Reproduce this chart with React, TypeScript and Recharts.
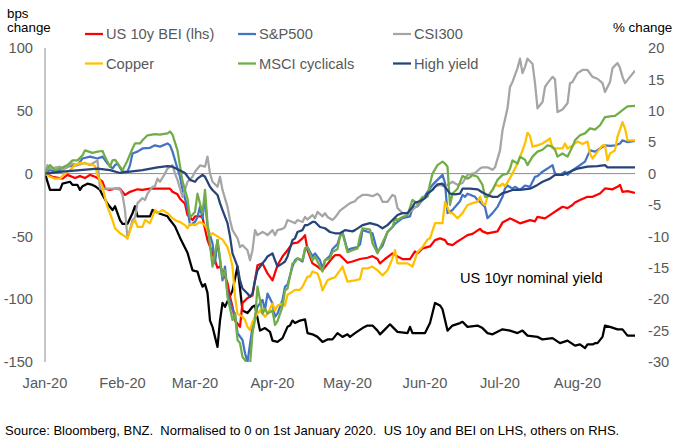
import React from 'react';
import { LineChart, Line, XAxis, YAxis, ReferenceLine } from 'recharts';

// x values: calendar days since 1 Jan 2020
const monthTicks = [0, 31, 60, 91, 121, 152, 182, 213];
const monthLabels = ['Jan-20', 'Feb-20', 'Mar-20', 'Apr-20', 'May-20', 'Jun-20', 'Jul-20', 'Aug-20'];
const lhsTicks = [-150, -100, -50, 0, 50, 100];
const rhsTicks = [-30, -25, -20, -15, -10, -5, 0, 5, 10, 15, 20];

// US 10yr nominal yield, bps change (lhs)
const nominalYield: [number, number][] = [
  [0,0],[2,-13],[6,-13],[7,-8],[10,-6.5],[11,-9],[13,-9],[14,-13],[15,-10],[17,-8],[19,-9],[20,-10],[22,-13],[23,-17],[25,-24],[27,-29],[28,-26],[29,-31.5],[30,-37],[31,-40],[33,-40],[35,-31.5],[36,-26],[37,-34],[42,-34],[43,-29],[46,-32],[49,-34],[50,-37],[52,-42],[54,-51],[55,-55],[57,-63],[59,-77],[61,-78],[62,-85],[63,-90],[64,-88],[65,-95],[66,-117],[67,-122],[68,-130],[69,-138],[70,-117],[71,-103],[72,-106],[75,-93],[77,-74],[79,-109],[81,-111],[83,-106],[84,-105],[86,-125],[88,-123],[90,-126],[91,-133],[93,-134],[95,-131],[97,-122],[98,-121],[99,-117],[100,-119],[102,-117],[104,-116],[105,-127],[107,-128],[109,-130],[111,-134],[113,-132],[115,-132],[117,-127],[119,-130],[121,-128],[122,-130],[124,-127],[127,-123],[129,-121],[131,-121],[133,-125],[134,-128],[136,-124],[138,-120],[139,-122],[141,-126],[145,-127],[146,-122],[147,-127],[152,-127],[154,-119],[156,-103],[158,-105],[159,-108],[161,-125],[163,-121],[166,-119],[167,-118],[169,-122],[173,-121],[175,-123],[177,-127],[179,-128],[181,-126],[183,-124],[186,-125],[189,-127],[191,-125],[193,-129],[197,-130],[199,-132],[203,-131],[206,-135],[209,-133],[212,-137],[214,-136],[216,-139],[217,-136],[219,-136],[220,-135],[221,-135],[223,-130],[224,-121],[226,-122],[229,-124],[231,-124],[233,-129],[236,-129],
];

// US 10y BEI, bps change (lhs)
const bei: [number, number][] = [
  [0,0],[3,-2.5],[7,-4],[9,-1],[12,-3.5],[14,-2],[16,-3.5],[18,-1],[20,-2.5],[21,-3.5],[23,-6.5],[24,-12],[26,-13],[28,-12],[30,-12],[32,-17],[34,-14.5],[37,-12.5],[39,-13],[42,-12],[50,-12],[51,-14.5],[53,-16.5],[54,-20],[56,-24],[57,-33],[59,-37],[60,-34],[62,-34],[63,-35],[65,-53],[67,-63.5],[69,-75],[70,-74],[71,-78],[73,-87],[74,-98],[75,-106],[76,-117],[78,-122],[79,-103],[81,-99],[83,-97],[84,-85],[85,-73],[87,-71.5],[89,-79.5],[91,-85],[93,-73],[95,-66],[97,-61],[99,-55.5],[101,-55],[103,-51.6],[104,-49],[105,-61],[107,-71.5],[109,-74],[111,-77],[113,-72],[115,-67],[116,-65],[118,-65],[121,-71],[123,-70],[126,-68],[129,-67],[131,-65.7],[133,-68],[134,-71.5],[136,-68],[139,-63.5],[141,-66],[143,-68],[146,-68],[148,-62],[149,-63.5],[151,-59.6],[154,-58],[156,-53],[158,-51.6],[160,-53],[161,-56],[163,-57],[165,-54],[167,-51.6],[169,-49],[171,-48],[174,-44],[175,-46],[177,-47.6],[181,-46],[183,-39],[186,-35.7],[187,-36.5],[190,-39.6],[194,-37],[196,-38],[197,-34.4],[200,-35.7],[203,-31.7],[205,-29],[207,-26.4],[209,-27.5],[211,-25],[212,-23],[214,-21],[217,-18.5],[219,-18.5],[222,-15.8],[224,-11.8],[227,-12.5],[229,-10.5],[230,-9],[231,-14.5],[233,-14],[236,-15.3],
];

// S&P500, % change (rhs)
const spx: [number, number][] = [
  [0,0],[2,0.6],[4,0.3],[7,0.7],[10,1.2],[13,1.35],[15,2.4],[18,2.7],[21,2.4],[23,2.7],[25,1.6],[27,0.8],[28,1.35],[29,1.6],[31,0.3],[33,0.3],[34,1.35],[35,3.2],[37,3.5],[39,4.0],[42,4.1],[44,4.5],[46,4.3],[49,4.8],[50,4.5],[51,3.5],[53,0.8],[54,-0.5],[55,-2.5],[57,-5.5],[58,-8.2],[60,-7.7],[61,-6.9],[62,-5.3],[63,-7.1],[64,-3.9],[65,-8.5],[67,-11.1],[68,-14.3],[69,-10.6],[71,-17],[72,-14.8],[73,-19],[75,-21.7],[76,-22.3],[77,-25.4],[79,-26.5],[80,-28.6],[81,-30],[83,-24.4],[84,-22.8],[85,-21.2],[87,-20.1],[88,-21.7],[89,-19.1],[91,-20.7],[92,-22.8],[93,-22.3],[95,-20.1],[96,-18],[97,-17.7],[99,-14.8],[100,-13.8],[101,-13.5],[103,-14],[104,-12.2],[105,-11.7],[107,-13.2],[108,-12.7],[110,-13.8],[111,-15.1],[112,-13.8],[114,-13.1],[115,-12],[117,-11.2],[118,-10],[119,-9.3],[121,-12.2],[122,-12],[125,-11.7],[126,-11.3],[127,-9],[131,-9.5],[133,-12.5],[135,-11.5],[137,-9.3],[139,-8.5],[140,-8.0],[143,-7.1],[146,-6.8],[147,-5.5],[149,-5.2],[151,-4.2],[153,-2.9],[155,-1.8],[157,-1.0],[159,-0.2],[160,-1.5],[161,-6.3],[163,-5.8],[164,-5.3],[166,-4.4],[167,-3.4],[168,-3.7],[169,-3.2],[172,-3.7],[173,-4.2],[174,-4.5],[176,-5.3],[177,-7.1],[179,-6.3],[181,-5.3],[183,-3.7],[184,-2.4],[185,-1.9],[187,-2.4],[188,-2.1],[190,-2.6],[192,-1.9],[194,-2.1],[196,-0.5],[197,-0.4],[199,0.3],[201,0.8],[203,1.35],[204,0],[206,-0.2],[208,0.3],[209,-0.2],[211,0.55],[212,0.8],[214,1.35],[216,1.9],[218,3.7],[220,3.5],[222,4.0],[224,4.5],[226,4.4],[228,4.5],[230,4.8],[231,5.3],[233,5.0],[236,5.2],
];

// CSI300, % change (rhs)
const csi300: [number, number][] = [
  [0,0],[1,1.35],[2,0.8],[6,1.1],[7,0.5],[9,1.1],[11,1.6],[13,1.35],[16,1.7],[18,1.35],[19,1.6],[21,2.1],[22,-2.4],[23,-2.4],[27,-2.4],[30,-2.5],[31,-3.4],[32,-5.8],[33,-10.3],[35,-7.4],[36,-7.0],[37,-4.7],[39,-3.9],[40,-4.2],[41,-3.2],[43,-2.1],[44,-2.0],[45,-0.8],[46,-1.3],[48,0],[49,0.8],[51,1.35],[52,0],[53,-1],[55,-3.7],[56,-2.6],[57,-1.3],[59,-0.5],[60,0.3],[62,1.3],[64,1.1],[65,2.7],[66,0],[67,-1.3],[69,-2.1],[70,-0.5],[71,-2.6],[73,-5.3],[74,-7.4],[75,-9],[77,-10.3],[78,-11.7],[79,-11.4],[81,-12.2],[82,-13.8],[83,-12.2],[84,-9],[85,-9.8],[87,-9.3],[88,-9.5],[89,-9.8],[91,-9],[92,-9.8],[93,-9],[95,-8.8],[96,-8.5],[97,-7.4],[99,-7.7],[100,-7.9],[101,-7.4],[103,-7.7],[104,-6.9],[105,-7.3],[107,-6.6],[108,-7.1],[109,-6.1],[111,-6.8],[112,-6.3],[113,-6.9],[115,-7.4],[116,-7.0],[118,-5.9],[120,-5.3],[122,-4.7],[124,-4.4],[125,-3.9],[127,-3.4],[129,-3.4],[131,-3.6],[133,-3.2],[134,-3.6],[135,-4.5],[137,-4.5],[139,-3.4],[140,-3.6],[141,-5.5],[143,-6.3],[145,-6.3],[147,-5.8],[149,-5.0],[151,-4.2],[153,-3.6],[154,-2.9],[156,-2.1],[158,-1.8],[160,-2.1],[161,-1.8],[163,-1.3],[165,-1.8],[167,-1.5],[169,-0.2],[171,0],[172,0.1],[174,0.8],[175,1.0],[177,1.0],[179,0.6],[180,1.0],[182,3.7],[183,6.9],[185,10.4],[186,13.8],[187,14.6],[189,16.8],[190,18.3],[191,16],[192,17],[193,18.3],[195,17.5],[196,14.4],[197,10.4],[199,11.4],[200,13.8],[201,14.4],[203,15.4],[204,15],[205,9.8],[207,10.2],[209,11.2],[210,14.4],[211,14.6],[213,16],[215,16.5],[217,16.5],[219,15.4],[221,15.1],[223,14.4],[224,13],[226,14.6],[227,16.8],[229,17.6],[230,16.8],[231,15.4],[232,14.4],[234,15.4],[236,16.4],
];

// Copper, % change (rhs)
const copper: [number, number][] = [
  [0,0],[2,-0.5],[4,-0.8],[6,-0.8],[8,0],[10,0.55],[12,1.35],[14,1.7],[16,1.6],[18,1.5],[20,1.2],[21,-0.2],[23,-2.1],[24,-3.9],[25,-5.3],[27,-7.4],[28,-8.7],[30,-9.5],[32,-10],[33,-10.3],[35,-7.9],[36,-7.4],[37,-8.5],[39,-8.5],[40,-7.4],[42,-7.9],[44,-5.8],[45,-6.3],[47,-5.8],[49,-6.3],[51,-7.1],[53,-7.6],[54,-7.7],[56,-8.2],[57,-8.7],[58,-8.0],[60,-8.2],[62,-7.7],[64,-8.2],[66,-9.8],[67,-9.5],[69,-10],[70,-10.3],[71,-10.5],[73,-11.7],[74,-13],[75,-14.8],[76,-19.6],[77,-22.3],[79,-22.8],[80,-23.3],[81,-24.4],[82,-24.9],[83,-23.6],[85,-22.3],[86,-21.8],[88,-22.8],[89,-22.3],[91,-20.7],[92,-21.8],[93,-21],[95,-20.7],[96,-21],[97,-19.3],[99,-18.8],[100,-18.5],[102,-18.5],[103,-18],[105,-16.4],[106,-16.4],[107,-15.6],[109,-15.9],[110,-17],[111,-18.6],[113,-17],[114,-16.8],[116,-16.5],[118,-15.4],[119,-14.8],[121,-17.2],[124,-17],[126,-16.8],[127,-15.1],[129,-15.1],[131,-14.8],[133,-15.4],[135,-16.2],[137,-15.4],[139,-13.5],[140,-12.2],[141,-14.3],[143,-14.3],[145,-14.3],[147,-14.8],[149,-12.5],[151,-11.7],[153,-10.5],[154,-10.3],[156,-7.9],[158,-7.9],[159,-7.9],[160,-4.5],[162,-6.3],[163,-6.3],[165,-7.1],[167,-6.3],[169,-5],[171,-4.7],[173,-4.5],[174,-3.7],[175,-4.7],[176,-5.0],[177,-3.7],[179,-2.6],[180,-1.8],[182,-2.0],[183,-1.6],[184,-2.0],[185,-1.4],[187,0],[189,1.6],[191,3.7],[192,4.8],[193,6.5],[194,6.0],[195,4.3],[197,4.5],[199,4.8],[201,5.3],[202,5.6],[203,4.0],[205,4.0],[207,4.0],[208,4.8],[209,4.0],[211,4.5],[213,5.1],[215,4.7],[217,5.1],[218,3.2],[219,2.4],[221,3.5],[223,4.5],[224,4.5],[225,2.1],[226,3.2],[228,3.7],[229,5.9],[231,8.2],[232,7.2],[233,5.3],[236,5.3],
];

// MSCI cyclicals, % change (rhs)
const msciCyclicals: [number, number][] = [
  [0,0],[2,1.35],[4,0.55],[6,0.8],[9,1.35],[11,2.1],[13,2.1],[15,2.9],[16,3.7],[19,3.3],[21,3.5],[23,3.6],[24,2.7],[26,1.1],[27,2.1],[28,2.2],[30,1.1],[31,0.55],[33,2.1],[35,4.0],[36,4.8],[38,4.8],[39,5.3],[41,6.1],[44,6.3],[46,6.2],[49,6.4],[50,6.7],[51,6.2],[53,3.7],[54,1.2],[55,-1.2],[57,-4.0],[58,-7.0],[60,-6.1],[61,-3.2],[63,-6.3],[64,-2.6],[65,-7.9],[67,-14.8],[69,-10.6],[71,-16.4],[72,-15.4],[73,-19.6],[75,-23.3],[76,-22.3],[77,-26.5],[78,-27],[79,-29.2],[81,-30.2],[82,-30.5],[83,-25.4],[84,-23.3],[85,-18],[87,-22.3],[88,-21.5],[89,-22.3],[91,-21.8],[92,-24.1],[93,-23.5],[95,-21.2],[96,-18.6],[97,-18.3],[99,-14.3],[100,-14.1],[101,-13.5],[103,-13.8],[104,-11.9],[105,-11.7],[107,-13.8],[108,-13.2],[110,-14.8],[111,-15.6],[112,-13.8],[114,-13.5],[115,-12.5],[117,-12],[118,-10],[119,-9.5],[121,-12.5],[123,-12.2],[125,-11.9],[126,-10],[127,-8.7],[130,-8.9],[131,-11.1],[133,-12.7],[135,-11],[137,-9.3],[139,-8.5],[140,-7.1],[141,-7.4],[143,-6.9],[145,-6.6],[147,-4.2],[149,-4.8],[151,-3.7],[153,-3.7],[154,-1.6],[155,0],[157,1.35],[159,1.9],[160,1.6],[161,1.1],[162,-5],[163,-3.2],[165,-2.4],[167,-0.4],[169,-0.8],[170,-0.6],[171,-0.2],[173,-0.5],[175,-1.8],[176,-3.7],[177,-3.7],[179,-2.6],[181,-1],[183,-0.2],[185,0],[186,0.8],[187,2.1],[189,1.6],[190,2.7],[192,2.2],[193,1.35],[195,2.7],[197,3.5],[199,3.8],[201,4.5],[203,4.3],[204,3.8],[205,2.7],[207,3.2],[209,2.7],[211,4.3],[212,5.3],[214,6.1],[216,6.4],[218,7.2],[220,7.0],[222,7.7],[224,9.0],[226,9.1],[228,9.2],[230,9.8],[231,10.1],[233,10.7],[236,10.8],
];

// High yield, % change (rhs)
const highYield: [number, number][] = [
  [0,0],[7,0.3],[14,0.55],[21,0.8],[26,0.55],[30,0.1],[34,0.3],[39,0.55],[45,1.0],[49,1.2],[51,1.1],[54,0.5],[56,0.1],[58,-1.0],[60,-1.3],[61,-0.8],[63,-0.2],[64,-0.5],[66,-2.1],[67,-2.6],[69,-3.4],[70,-4.7],[71,-5.8],[73,-7.9],[74,-10],[75,-12.7],[77,-14.8],[78,-17],[79,-18.3],[81,-19.1],[82,-19.6],[83,-19.1],[84,-17],[85,-15.4],[87,-14.3],[88,-13.8],[89,-13.2],[91,-12.7],[92,-13.8],[93,-14.8],[95,-14.3],[96,-14],[97,-13.2],[99,-10.6],[100,-10.3],[101,-9.3],[103,-9.0],[104,-8.2],[105,-8.2],[107,-7.7],[108,-7.7],[110,-8.5],[112,-8.7],[114,-9.3],[116,-9.5],[118,-9.5],[120,-9],[123,-9.2],[124,-9],[127,-8.2],[130,-7.9],[133,-8.2],[135,-8.7],[137,-8.2],[139,-7.4],[141,-6.6],[143,-6.3],[145,-6.3],[147,-5.3],[148,-4.6],[150,-4.4],[152,-3.9],[153,-3.2],[155,-2.6],[156,-2.1],[157,-1.7],[159,-1.6],[160,-2.1],[162,-3.2],[164,-3.3],[166,-3.2],[167,-2.4],[170,-2.4],[173,-2.5],[175,-3.0],[177,-3.4],[179,-3.7],[181,-3.7],[183,-3.1],[185,-2.9],[187,-2.6],[190,-2.6],[194,-2.4],[197,-1.8],[199,-1.3],[202,-0.8],[204,-0.2],[207,-0.2],[210,0.3],[213,0.8],[217,1.1],[221,1.2],[224,1.35],[225,1.0],[236,1.0],
];

const FONT = '"Liberation Sans", Arial, sans-serif';
const AXIS_GREY = '#595959';

const toPoints = (pairs: [number, number][]) => pairs.map(([day, v]) => ({ day, v }));

const legendItems = [
  { label: 'US 10y BEI (lhs)', color: '#FF0000', x: 85, y: 34 },
  { label: 'S&P500', color: '#4472C4', x: 238, y: 34 },
  { label: 'CSI300', color: '#A5A5A5', x: 393, y: 34 },
  { label: 'Copper', color: '#FFC000', x: 85, y: 63.5 },
  { label: 'MSCI cyclicals', color: '#70AD47', x: 238, y: 63.5 },
  { label: 'High yield', color: '#264478', x: 393, y: 63.5 },
];

const monthLabel = (v: number) => {
  const i = monthTicks.indexOf(v);
  return i >= 0 ? monthLabels[i] : '';
};

const tickStyle = { fontSize: 14.67, fill: AXIS_GREY, fontFamily: FONT };

export default function App() {
  const lineProps = {
    type: 'linear' as const,
    dataKey: 'v',
    dot: false,
    activeDot: false,
    isAnimationActive: false,
    strokeWidth: 2.25,
    strokeLinejoin: 'round' as const,
  };
  return (
    <div style={{ position: 'absolute', left: 0, top: 0, width: 677, height: 443, background: '#ffffff', fontFamily: FONT }}>
      <LineChart width={677} height={443} margin={{ top: 48, right: 0, bottom: 51, left: 0 }}>
        <XAxis
          dataKey="day"
          type="number"
          domain={[0, 236]}
          allowDataOverflow
          ticks={monthTicks}
          interval={0}
          tickFormatter={monthLabel}
          axisLine={false}
          tickLine={false}
          tickSize={0}
          tickMargin={16}
          height={30}
          tick={tickStyle}
        />
        <YAxis
          yAxisId="left"
          orientation="left"
          domain={[-150, 100]}
          ticks={lhsTicks}
          interval={0}
          allowDataOverflow
          width={45}
          tickLine={false}
          tickSize={0}
          tickMargin={12}
          axisLine={{ stroke: '#8C8C8C', strokeWidth: 1 }}
          tick={tickStyle}
        />
        <YAxis
          yAxisId="right"
          orientation="right"
          domain={[-30, 20]}
          ticks={rhsTicks}
          interval={0}
          allowDataOverflow
          width={42}
          tickLine={false}
          tickSize={0}
          tickMargin={13}
          axisLine={false}
          tick={tickStyle}
        />
        <ReferenceLine yAxisId="left" y={0} stroke="#8C8C8C" strokeWidth={1} />
        <Line {...lineProps} yAxisId="left" data={toPoints(nominalYield)} stroke="#000000" name="US 10yr nominal yield" />
        <Line {...lineProps} yAxisId="left" data={toPoints(bei)} stroke="#FF0000" name="US 10y BEI (lhs)" />
        <Line {...lineProps} yAxisId="right" data={toPoints(spx)} stroke="#4472C4" name="S&P500" />
        <Line {...lineProps} yAxisId="right" data={toPoints(csi300)} stroke="#A5A5A5" name="CSI300" />
        <Line {...lineProps} yAxisId="right" data={toPoints(copper)} stroke="#FFC000" name="Copper" />
        <Line {...lineProps} yAxisId="right" data={toPoints(msciCyclicals)} stroke="#70AD47" name="MSCI cyclicals" />
        <Line {...lineProps} yAxisId="right" data={toPoints(highYield)} stroke="#264478" name="High yield" />
      </LineChart>
      <svg width={677} height={443} style={{ position: 'absolute', left: 0, top: 0, pointerEvents: 'none' }}>
        <text x={7} y={17.5} fontSize={13.33} fill="#000" fontFamily={FONT}>bps</text>
        <text x={7} y={31.5} fontSize={13.33} fill="#000" fontFamily={FONT}>change</text>
        <text x={613} y={31.5} fontSize={13.33} fill="#000" fontFamily={FONT}>% change</text>
        {legendItems.map((it) => (
          <g key={it.label}>
            <line x1={it.x} x2={it.x + 18} y1={it.y} y2={it.y} stroke={it.color} strokeWidth={2.25} />
            <text x={it.x + 21} y={it.y + 5} fontSize={14.67} fill={AXIS_GREY} fontFamily={FONT}>{it.label}</text>
          </g>
        ))}
        <text x={460} y={282.5} fontSize={14.67} fill="#000" fontFamily={FONT}>US 10yr nominal yield</text>
        <text x={5} y={435} fontSize={13} fill="#000" fontFamily={FONT} style={{ whiteSpace: 'pre' }}>
          {'Source: Bloomberg, BNZ.  Normalised to 0 on 1st January 2020.  US 10y and BEI on LHS, others on RHS.'}
        </text>
      </svg>
    </div>
  );
}
